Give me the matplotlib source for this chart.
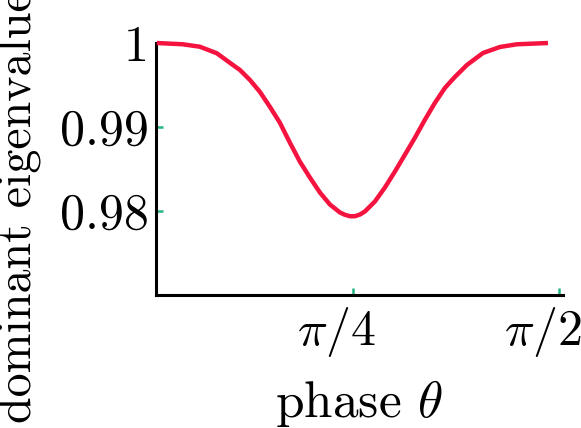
import numpy as np
import matplotlib
matplotlib.use("Agg")
import matplotlib.pyplot as plt
from matplotlib.transforms import ScaledTranslation

plt.rcParams['font.family'] = 'serif'
plt.rcParams['font.serif'] = ['cmr10']
plt.rcParams['mathtext.fontset'] = 'cm'
plt.rcParams['axes.unicode_minus'] = False

# phase theta (rad) and dominant eigenvalue
theta = [0.0381, 0.1372, 0.2020, 0.2668, 0.3278, 0.3545, 0.3927, 0.4308,
         0.4689, 0.5071, 0.5452, 0.5833, 0.6214, 0.6595, 0.6977, 0.7358,
         0.7549, 0.7740, 0.7930, 0.8121, 0.8312, 0.8693, 0.9074, 0.9455,
         0.9837, 1.0218, 1.0599, 1.0980, 1.1362, 1.1743, 1.2201, 1.2811,
         1.3459, 1.4107, 1.5289]
eig = [1.0000, 0.99985, 0.99956, 0.99878, 0.99739, 0.99680, 0.99561, 0.99419,
       0.99241, 0.99051, 0.98814, 0.98588, 0.98399, 0.98221, 0.98078, 0.97983,
       0.97955, 0.97938, 0.97938, 0.97958, 0.97995, 0.98114, 0.98280, 0.98470,
       0.98671, 0.98873, 0.99087, 0.99288, 0.99466, 0.99597, 0.99739, 0.99881,
       0.99953, 0.99985, 1.0000]

xticks = [np.pi / 4, np.pi / 2]
xticklabels = [r'$\pi{/}4$', r'$\pi{/}2$']
yticks = [1.0, 0.99, 0.98]
yticklabels = ['1', '0.99', '0.98']

fig = plt.figure(figsize=(5.81, 4.28), dpi=100)
ax = fig.add_axes([0.2685, 0.3107, 0.969 - 0.2685, 0.8995 - 0.3107])

ax.plot(theta, eig, color='#f5133f', lw=3.2, clip_on=False,
        solid_capstyle='butt', solid_joinstyle='round', zorder=5)

ax.set_xlim(0.035, 1.586)
ax.set_ylim(0.97, 1.0)

for s in ['top', 'right']:
    ax.spines[s].set_visible(False)
for s in ['left', 'bottom']:
    ax.spines[s].set_linewidth(2.2)

ax.set_xticks(xticks)
ax.set_xticklabels(xticklabels)
ax.set_yticks(yticks)
ax.set_yticklabels(yticklabels)
ax.tick_params(direction='in', length=5, width=1.8, color='#22b585',
               labelsize=36, pad=5)
ax.tick_params(axis='x', pad=7)

# x tick labels sit a bit left of their ticks in the original
shift = ScaledTranslation(-16 / 100, 0, fig.dpi_scale_trans)
for lbl in ax.get_xticklabels():
    lbl.set_transform(lbl.get_transform() + shift)

ax.set_xlabel(r'phase $\theta$', fontsize=37)
ax.xaxis.set_label_coords(0.5, -0.33)
ax.set_ylabel('dominant eigenvalue', fontsize=34.5)
ax.yaxis.set_label_coords(-0.283, 0.35)

fig.savefig('out.png', dpi=100)
